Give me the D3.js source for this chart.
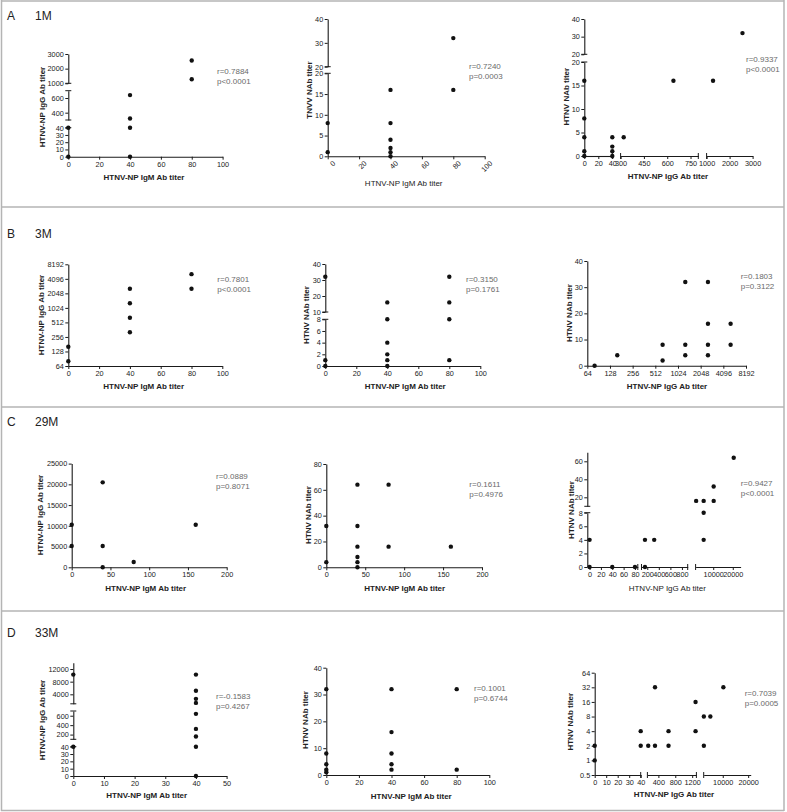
<!DOCTYPE html>
<html><head><meta charset="utf-8">
<script src="https://cdn.jsdelivr.net/npm/d3@7"></script>
<style>body{margin:0;background:#fff}svg{display:block}</style>
</head><body><svg id="c" width="787" height="812"></svg>
<script>
// ---------------- DATA ----------------
const rowLetters = ["A","B","C","D"];
const rowMonths = ["1M","3M","29M","33M"];
const rTexts = ["r=0.7884","r=0.7240","r=0.9337","r=0.7801","r=0.3150","r=0.1803","r=0.0889","r=0.1611","r=0.9427","r=-0.1583","r=0.1001","r=0.7039"];
const pTexts = ["p<0.0001","p=0.0003","p<0.0001","p<0.0001","p=0.1761","p=0.3122","p=0.8071","p=0.4976","p<0.0001","p=0.4267","p=0.6744","p=0.0005"];
const xTitles = ["HTNV-NP IgM Ab titer","HTNV-NP IgM Ab titer","HTNV-NP IgG Ab titer",
                 "HTNV-NP IgM Ab titer","HTNV-NP IgM Ab titer","HTNV-NP IgG Ab titer",
                 "HTNV-NP IgM Ab titer","HTNV-NP IgM Ab titer","HTNV-NP IgG Ab titer",
                 "HTNV-NP IgM Ab titer","HTNV-NP IgM Ab titer","HTNV-NP IgG Ab titer"];
const yTitles = ["HTNV-NP IgG Ab titer","TNVV NAb titer","HTNV NAb titer",
                 "HTNV-NP IgG Ab titer","HTNV NAb titer","HTNV NAb titer",
                 "HTNV-NP IgG Ab titer","HTNV NAb titer","HTNV NAb titer",
                 "HTNV-NP IgG Ab titer","HTNV NAb titer","HTNV NAb titer"];

// A 1M
const a1X = [0,0,40,40,40,40,80,80];
const a1Y = [40,0,640,320,40,0,2560,1280];
const a1XDom = [[0,100]], a1XTicks = [[0,20,40,60,80,100]];
const a1YDom = [[0,40],[300,700],[1000,3000]], a1YTicks = [[0,10,20,30,40],[400,600],[1000,2000,3000]];
const a2X = [0,0,40,40,40,40,40,40,80,80];
const a2Y = [8,1,16,8,4,2,1,0,32,16];
const a2XDom = [[0,100]], a2XTicks = [[0,20,40,60,80,100]];
const a2YDom = [[0,20],[20,40]], a2YTicks = [[0,5,10,15,20],[20,30,40]];
const a3X = [0,0,0,0,0,40,40,40,40,320,640,1280,2560];
const a3Y = [16,8,4,1,0,4,2,1,0,4,16,16,32];
const a3XDom = [[0,40],[300,800],[1000,3000]], a3XTicks = [[0,20,40],[300,450,600,750],[1000,2000,3000]];
const a3YDom = [[0,20],[20,40]], a3YTicks = [[0,5,10,15,20],[20,30,40]];
// B 3M
const b1X = [0,0,40,40,40,40,80,80];
const b1Y = [160,80,2560,1280,640,320,5120,2560];
const b1XDom = [[0,100]], b1XTicks = [[0,20,40,60,80,100]];
const b1YDom = [[64,8192]], b1YTicks = [[64,128,256,512,1024,2048,4096,8192]];
const b2X = [0,0,0,40,40,40,40,40,40,80,80,80,80];
const b2Y = [32,1,0,16,8,4,2,1,0,32,16,8,1];
const b2XDom = [[0,100]], b2XTicks = [[0,20,40,60,80,100]];
const b2YDom = [[0,8],[10,40]], b2YTicks = [[0,2,4,6,8],[10,20,30,40]];
const b3X = [80,160,640,640,1280,1280,1280,2560,2560,2560,2560,5120,5120];
const b3Y = [0,4,8,2,32,8,4,32,16,8,4,16,8];
const b3XDom = [[64,8192]], b3XTicks = [[64,128,256,512,1024,2048,4096,8192]];
const b3YDom = [[0,40]], b3YTicks = [[0,10,20,30,40]];
// C 29M
const c1X = [0,0,40,40,40,80,160];
const c1Y = [10240,5120,20480,5120,0,1280,10240];
const c1XDom = [[0,200]], c1XTicks = [[0,50,100,150,200]];
const c1YDom = [[0,25000]], c1YTicks = [[0,5000,10000,15000,20000,25000]];
const c2X = [0,0,40,40,40,40,40,40,80,80,160];
const c2Y = [32,4,64,32,16,8,4,0,64,16,16];
const c2XDom = [[0,200]], c2XTicks = [[0,50,100,150,200]];
const c2YDom = [[0,80]], c2YTicks = [[0,20,40,60,80]];
const c3X = [0,0,40,80,160,160,320,1280,5120,5120,5120,10240,10240,20480];
const c3Y = [4,0,0,0,4,0,4,16,16,8,4,32,16,64];
const c3XDom = [[-4,85],[100,900],[1000,24000]], c3XTicks = [[0,20,40,60,80],[200,400,600,800],[10000,20000]];
const c3YDom = [[0,8],[10,70]], c3YTicks = [[0,2,4,6,8],[20,40,60]];
// D 33M
const d1X = [0,0,40,40,40,40,40,40,40,40,40];
const d1Y = [10240,40,10240,5120,2560,1280,640,320,160,40,0];
const d1XDom = [[0,50]], d1XTicks = [[0,10,20,30,40,50]];
const d1YDom = [[0,40],[100,700],[1000,14000]], d1YTicks = [[0,10,20,30,40],[200,400,600],[4000,8000,12000]];
const d2X = [0,0,0,0,0,40,40,40,40,40,80,80];
const d2Y = [32,8,4,2,1,32,16,8,4,2,32,2];
const d2XDom = [[0,100]], d2XTicks = [[0,20,40,60,80,100]];
const d2YDom = [[0,40]], d2YTicks = [[0,10,20,30,40]];
const d3X = [0,0,40,40,160,320,320,640,640,1280,1280,2560,2560,5120,10240];
const d3Y = [2,1,4,2,2,32,2,4,2,16,4,8,2,8,32];
const d3XDom = [[0,40],[140,1300],[2500,21000]], d3XTicks = [[0,10,20,30,40],[400,800,1200],[10000,20000]];
const d3YDom = [[0.5,64]], d3YTicks = [[0.5,1,2,4,8,16,32,64]];

// ---------------- LAYOUT ----------------
const FONT = '"Liberation Sans", Arial, Helvetica, sans-serif';
const panels = [
 {x:a1X,y:a1Y,xd:a1XDom,xt:a1XTicks,yd:a1YDom,yt:a1YTicks,o:[68.3,156.7],xr:[[0,154.3]],yr:[[0,-29],[-36.7,-66],[-73.4,-102.7]],ann:[217,74],xT:[144,179.7],yT:[41.7,107]},
 {x:a2X,y:a2Y,xd:a2XDom,xt:a2XTicks,yd:a2YDom,yt:a2YTicks,o:[327.7,156.3],xr:[[0,157]],yr:[[0,-83],[-89.6,-137.3]],ann:[469,68.7],xT:[403.7,185.7],yT:[308.7,90],rot:true,xLight:true},
 {x:a3X,y:a3Y,xd:a3XDom,xt:a3XTicks,yd:a3YDom,yt:a3YTicks,o:[584.3,156],xr:[[0,28],[36.3,114],[122.3,168.3]],yr:[[0,-94],[-101.7,-137]],ann:[746,61.7],xT:[668,179],yT:[565.7,96.7]},
 {x:b1X,y:b1Y,xd:b1XDom,xt:b1XTicks,yd:b1YDom,yt:b1YTicks,o:[68.3,366],xr:[[0,154]],yr:[[0,-101.7]],ylog:true,ann:[217.3,282.3],xT:[143.7,388.7],yT:[40.7,315]},
 {x:b2X,y:b2Y,xd:b2XDom,xt:b2XTicks,yd:b2YDom,yt:b2YTicks,o:[325.3,366],xr:[[0,155]],yr:[[0,-46.7],[-54,-102]],ann:[466,282.3],xT:[405.3,389],yT:[306.3,315]},
 {x:b3X,y:b3Y,xd:b3XDom,xt:b3XTicks,yd:b3YDom,yt:b3YTicks,o:[587.3,365.7],xr:[[0,158.7]],xlog:true,yr:[[0,-104.7]],ann:[740.7,279],xT:[667,389],yT:[569,313]},
 {x:c1X,y:c1Y,xd:c1XDom,xt:c1XTicks,yd:c1YDom,yt:c1YTicks,o:[71.7,567.3],xr:[[0,155]],yr:[[0,-103.7]],ann:[216,479],xT:[145.7,590.7],yT:[40,515]},
 {x:c2X,y:c2Y,xd:c2XDom,xt:c2XTicks,yd:c2YDom,yt:c2YTicks,o:[326.3,567.3],xr:[[0,155.7]],yr:[[0,-103.3]],ann:[469.3,487.3],xT:[404.7,591.3],yT:[307.7,515]},
 {x:c3X,y:c3Y,xd:c3XDom,xt:c3XTicks,yd:c3YDom,yt:c3YTicks,o:[587.3,567],xr:[[0,50.5],[54.2,100.4],[108.3,153.3]],yr:[[0,-54.3],[-60.7,-114.7]],ann:[740.7,486],xT:[667.3,590.7],yT:[570.7,510],xLight:true},
 {x:d1X,y:d1Y,xd:d1XDom,xt:d1XTicks,yd:d1YDom,yt:d1YTicks,o:[73.3,776],xr:[[0,153.3]],yr:[[0,-29.3],[-36.7,-65],[-72.2,-113.3]],ann:[216,698.7],xT:[146.7,798],yT:[41.7,720]},
 {x:d2X,y:d2Y,xd:d2XDom,xt:d2XTicks,yd:d2YDom,yt:d2YTicks,o:[326.3,775],xr:[[0,163]],yr:[[0,-107.3]],ann:[474,690.7],xT:[411.3,799],yT:[305.3,720]},
 {x:d3X,y:d3Y,xd:d3XDom,xt:d3XTicks,yd:d3YDom,yt:d3YTicks,o:[594.7,775],xr:[[0,46],[52.7,101.7],[109,156]],yr:[[0,-102.3]],ylog:true,ann:[744.7,696.3],xT:[674,797],yT:[569.7,721.7]}
];
const rowLabelPos = [[7,20],[7,238.3],[7,426],[7,636.7]];
const rowMonthX = 35;

const svg = d3.select("#c");
svg.append("rect").attr("width",787).attr("height",812).attr("fill","#fff");

// frame
const frame = svg.append("g").attr("stroke","#b4b4b4").attr("stroke-width",1.5).attr("fill","none");
[1,207,407,611,810.5].forEach(y=>frame.append("line").attr("x1",1).attr("x2",784).attr("y1",y).attr("y2",y));
[1.5,784].forEach(x=>frame.append("line").attr("x1",x).attr("x2",x).attr("y1",0).attr("y2",811));

rowLetters.forEach((L,i)=>{
  svg.append("text").attr("x",rowLabelPos[i][0]).attr("y",rowLabelPos[i][1]).text(L)
    .attr("font-family",FONT).attr("font-size",12).attr("fill","#222");
  svg.append("text").attr("x",rowMonthX).attr("y",rowLabelPos[i][1]).text(rowMonths[i])
    .attr("font-family",FONT).attr("font-size",12).attr("fill","#222");
});

function segScale(domains, ranges, log){
  const scs = domains.map((d,i)=>(log?d3.scaleLog().base(2):d3.scaleLinear()).domain(d).range(ranges[i]));
  const f = v=>{
    for(const s of scs){const [a,b]=s.domain(); if(v>=Math.min(a,b)-1e-9 && v<=Math.max(a,b)+1e-9) return s(v);}
    return scs[scs.length-1](v);
  };
  f.segs = scs; return f;
}

function styleAxis(g){
  g.select(".domain").attr("stroke","#1a1a1a").attr("stroke-width",1.1);
  g.selectAll(".tick line").attr("stroke","#1a1a1a").attr("stroke-width",1);
  g.selectAll(".tick text").attr("font-family",FONT).attr("font-size",7.3).attr("fill","#222");
}

const fmt = d=>String(d);

panels.forEach((p,pi)=>{
  const g = svg.append("g").attr("transform",`translate(${p.o[0]},${p.o[1]})`);
  const xs = segScale(p.xd,p.xr,p.xlog);
  const ys = segScale(p.yd,p.yr,p.ylog);
  ys.segs.forEach((s,i)=>{
    const ag = g.append("g").call(d3.axisLeft(s).tickValues(p.yt[i]).tickSize(3).tickSizeOuter(0).tickPadding(1.5).tickFormat(fmt));
    styleAxis(ag);
    const n = ys.segs.length;
    const r = s.range();
    if(n>1){
      if(i<n-1) g.append("line").attr("x1",-3).attr("x2",3).attr("y1",r[1]).attr("y2",r[1]).attr("stroke","#1a1a1a");
      if(i>0) g.append("line").attr("x1",-3).attr("x2",3).attr("y1",r[0]).attr("y2",r[0]).attr("stroke","#1a1a1a");
    }
  });
  xs.segs.forEach((s,i)=>{
    const ag = g.append("g").call(d3.axisBottom(s).tickValues(p.xt[i]).tickSize(3).tickSizeOuter(0).tickPadding(2).tickFormat(fmt));
    styleAxis(ag);
    if(p.rot){
      ag.selectAll(".tick text").attr("text-anchor","end").attr("dy","0.2em")
        .attr("transform","translate(3,3) rotate(-45)");
    }
    const n = xs.segs.length;
    const r = s.range();
    if(n>1){
      if(i<n-1) g.append("line").attr("y1",-3).attr("y2",3).attr("x1",r[1]).attr("x2",r[1]).attr("stroke","#1a1a1a");
      if(i>0) g.append("line").attr("y1",-3).attr("y2",3).attr("x1",r[0]).attr("x2",r[0]).attr("stroke","#1a1a1a");
    }
  });
  g.append("g").selectAll("circle").data(p.x.map((v,i)=>[v,p.y[i]])).join("circle")
    .attr("cx",d=>xs(d[0])).attr("cy",d=>ys(d[1])).attr("r",2.2).attr("fill","#111");
  svg.append("text").attr("x",p.ann[0]).attr("y",p.ann[1]).text(rTexts[pi])
    .attr("font-family",FONT).attr("font-size",8).attr("fill","#6a6a6a");
  svg.append("text").attr("x",p.ann[0]).attr("y",p.ann[1]+10).text(pTexts[pi])
    .attr("font-family",FONT).attr("font-size",8).attr("fill","#6a6a6a");
  svg.append("text").attr("x",p.xT[0]).attr("y",p.xT[1]).attr("text-anchor","middle").text(xTitles[pi])
    .attr("font-family",FONT).attr("font-size",8).attr("font-weight",p.xLight?"normal":"bold").attr("fill","#222");
  svg.append("text").attr("transform",`translate(${p.yT[0]+3},${p.yT[1]}) rotate(-90)`).attr("text-anchor","middle").text(yTitles[pi])
    .attr("font-family",FONT).attr("font-size",8).attr("font-weight","bold").attr("fill","#222");
});
</script></body></html>
